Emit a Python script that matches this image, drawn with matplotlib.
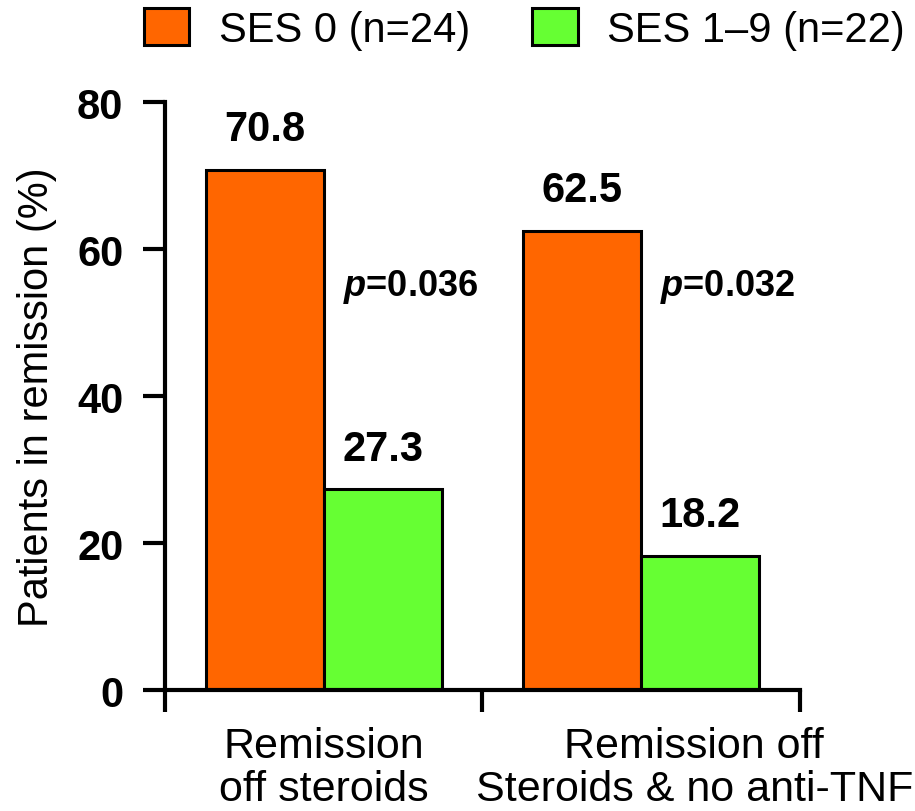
# bar chart - patients in remission by SES group
import matplotlib.pyplot as plt
import matplotlib.transforms as mtransforms
import numpy as np

plt.rcParams['font.family'] = ['Liberation Sans', 'DejaVu Sans']
plt.rcParams['font.sans-serif'] = ['Liberation Sans']
plt.rcParams['mathtext.fontset'] = 'custom'
plt.rcParams['mathtext.bfit'] = 'Liberation Sans:italic:bold'

categories = ['Remission\noff steroids', 'Remission off\nSteroids & no anti-TNF']
ses0 = [70.8, 62.5]
ses19 = [27.3, 18.2]
pvals = ['0.036', '0.032']
series_names = ['SES 0 (n=24)', 'SES 1\u20139 (n=22)']
colors = ['#FF6600', '#66FF33']

fig = plt.figure(figsize=(9.15, 8.12), dpi=100)
ax = fig.add_axes([0.1803, 0.149, 0.694, 0.724])

x = np.arange(len(categories))
w = 0.372
b1 = ax.bar(x - w / 2, ses0, w, color=colors[0], edgecolor='black', linewidth=2.2, label=series_names[0])
b2 = ax.bar(x + w / 2, ses19, w, color=colors[1], edgecolor='black', linewidth=2.2, label=series_names[1])

for bars, vals in [(b1, ses0), (b2, ses19)]:
    for r, v in zip(bars, vals):
        ax.annotate(f'{v:.1f}', (r.get_x() + r.get_width() / 2, v), xytext=(0, 15),
                    textcoords='offset points', ha='center', va='bottom',
                    fontsize=30, fontweight='bold')

for i, p in enumerate(pvals):
    ax.text(i + 0.06, 55, r'$\mathbfit{p}$=' + p, ha='left', va='center',
            fontsize=26, fontweight='bold')

ax.set_xlim(-0.5, 1.5)
ax.set_ylim(0, 80)
ax.set_yticks([0, 20, 40, 60, 80])
ax.set_xticks(x)
ax.set_xticklabels(categories, fontsize=31, linespacing=1.1)
ax.set_xticks([-0.5, 0.5, 1.5], minor=True)
ax.tick_params(axis='x', which='major', length=0, pad=26)
ax.tick_params(axis='x', which='minor', length=16, width=3, direction='out')
ax.tick_params(axis='y', length=16, width=3, labelsize=30, pad=14)
for t in ax.get_yticklabels():
    t.set_fontweight('bold')

# second category label sits a bit to the right in the original
lab2 = ax.get_xticklabels()[1]
lab2.set_transform(lab2.get_transform() + mtransforms.ScaledTranslation(0.53, 0, fig.dpi_scale_trans))

ax.set_ylabel('Patients in remission (%)', fontsize=30, labelpad=14)

for s in ['top', 'right']:
    ax.spines[s].set_visible(False)
for s in ['left', 'bottom']:
    ax.spines[s].set_linewidth(3)

fig.legend(loc='center', bbox_to_anchor=(0.573, 0.963), ncol=2, frameon=False,
           fontsize=30, handlelength=1.1, handleheight=1.0, columnspacing=1.5,
           handletextpad=0.7)

fig.savefig('out.png', dpi=100)
